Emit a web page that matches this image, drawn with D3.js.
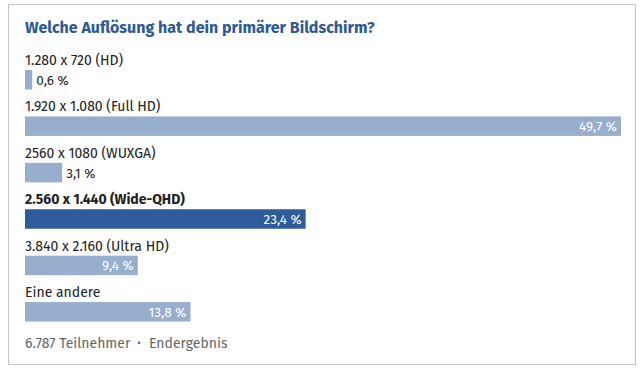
<!DOCTYPE html>
<html>
<head>
<meta charset="utf-8">
<script src="https://cdn.jsdelivr.net/npm/d3@7"></script>
<style>
  body { margin: 0; background: #fff; }
  svg { display: block; font-family: "Fira Sans", "Open Sans", "Noto Sans", sans-serif; }
</style>
</head>
<body>
<svg id="chart" width="644" height="371"></svg>
<script>
// Werte aus der Umfrage
var categories = ["1.280 x 720 (HD)", "1.920 x 1.080 (Full HD)", "2560 x 1080 (WUXGA)",
                  "2.560 x 1.440 (Wide-QHD)", "3.840 x 2.160 (Ultra HD)", "Eine andere"];
var values = [0.6, 49.7, 3.1, 23.4, 9.4, 13.8];
var highlight = [false, false, false, true, false, false];
var title = "Welche Auflösung hat dein primärer Bildschirm?";
var footer = ["6.787 Teilnehmer", "Endergebnis"];

var data = categories.map((c, i) => { return {label: c, value: values[i], hl: highlight[i]}; });

var svg = d3.select("#chart");

// rahmen
svg.append("rect")
    .attr("x", 8.5).attr("y", 4.5)
    .attr("width", 627).attr("height", 360)
    .attr("fill", "none")
    .attr("stroke", "#c4c4c4");

svg.append("text")
    .attr("x", 25).attr("y", 33)
    .attr("fill", "#2d5a96")
    .style("font-size", "16px")
    .style("font-weight", "bold")
    .text(title);

var xScale = d3.scaleLinear()
    .domain([0, d3.max(values)])
    .range([25, 621]);

var yScale = d3.scaleBand()
    .domain(categories)
    .range([70, 348.5])
    .paddingInner(0);

var barH = 19.5;
var fmt = (v) => d3.format(".1f")(v).replace(".", ",") + " %";

var rows = svg.selectAll("g.row").data(data).enter()
    .append("g")
    .attr("class", "row")
    .attr("transform", (d) => "translate(0," + yScale(d.label) + ")");

rows.append("text")
    .attr("x", 25).attr("y", -5)
    .attr("fill", "#222")
    .style("font-size", "14px")
    .style("font-weight", (d) => d.hl ? "bold" : "normal")
    .text((d) => d.label);

rows.append("rect")
    .attr("x", xScale(0))
    .attr("y", 0)
    .attr("width", (d) => Math.max(xScale(d.value) - xScale(0), 5))
    .attr("height", barH)
    .attr("fill", (d) => d.hl ? "#2e5c9a" : "#98aece");

// kleine balken -> zahl daneben, sonst rein
rows.append("text")
    .attr("x", (d) => {
        var end = xScale(0) + Math.max(xScale(d.value) - xScale(0), 5);
        return d.value < 5 ? end + 4 : end - 4;
    })
    .attr("y", barH / 2 + 5)
    .attr("text-anchor", (d) => d.value < 5 ? "start" : "end")
    .attr("fill", (d) => d.value < 5 ? "#222" : "#fff")
    .style("font-size", "13.5px")
    .text((d) => fmt(d.value));

var foot = svg.append("g").attr("fill", "#666").style("font-size", "14px");
foot.append("text").attr("x", 25).attr("y", 348).text(footer[0]);
foot.append("text").attr("x", 139).attr("y", 347).attr("text-anchor", "middle")
    .style("font-size", "11px").text("\u2022");
foot.append("text").attr("x", 149).attr("y", 348).text(footer[1]);
</script>
</body>
</html>
